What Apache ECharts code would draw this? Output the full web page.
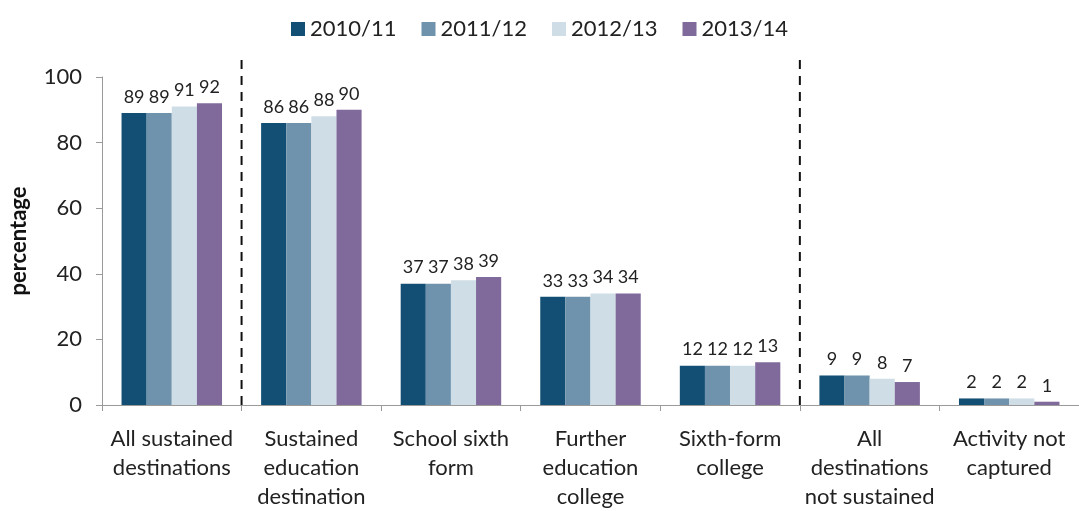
<!DOCTYPE html>
<html>
<head>
<meta charset="utf-8">
<script src="https://cdn.jsdelivr.net/npm/echarts@6/dist/echarts.min.js"></script>
<style>
  html, body { margin: 0; padding: 0; background: #fff; }
  #chart { width: 1079px; height: 511px; }
</style>
</head>
<body>
<div id="chart"></div>
<script>
// Destination categories along the x axis
const categories = [
  'All sustained\ndestinations',
  'Sustained\neducation\ndestination',
  'School sixth\nform',
  'Further\neducation\ncollege',
  'Sixth-form\ncollege',
  'All\ndestinations\nnot sustained',
  'Activity not\ncaptured'
];

// Academic years shown in the legend
const years = ['2010/11', '2011/12', '2012/13', '2013/14'];

// Percentage of pupils per destination, one array per year
const values2010 = [89, 86, 37, 33, 12, 9, 2];
const values2011 = [89, 86, 37, 33, 12, 9, 2];
const values2012 = [91, 88, 38, 34, 12, 8, 2];
const values2013 = [92, 90, 39, 34, 13, 7, 1];

// Group separators, expressed in category-boundary units (0..7)
const separatorPositions = [1, 5];
const separatorTop = 106.5;

const yTicks = [0, 20, 40, 60, 80, 100];

const seriesValues = [values2010, values2011, values2012, values2013];
const colors = ['#134f74', '#6f93ad', '#cfdde6', '#7f6a9b'];

const font = 'Lato, "Noto Sans", sans-serif';

const chart = echarts.init(document.getElementById('chart'), null, { renderer: 'canvas' });

const barSeries = years.map((name, i) => ({
  name: name,
  type: 'bar',
  data: seriesValues[i],
  barGap: '0%',
  barCategoryGap: '28%',
  itemStyle: { color: colors[i] },
  label: {
    show: true,
    position: 'top',
    distance: 7,
    color: '#222',
    fontFamily: font,
    fontSize: 18
  },
  emphasis: { disabled: true }
}));

const separatorSeries = separatorPositions.map(x => ({
  type: 'line',
  xAxisIndex: 1,
  data: [[x, 0], [x, separatorTop]],
  symbol: 'none',
  clip: false,
  silent: true,
  lineStyle: { color: '#111', width: 2, type: [9, 7] },
  z: 5
}));

chart.setOption({
  animation: false,
  textStyle: { fontFamily: font },
  legend: {
    data: years,
    top: 13,
    left: 'center',
    itemWidth: 14,
    itemHeight: 14,
    itemGap: 25,
    icon: 'rect',
    textStyle: { fontFamily: font, fontSize: 22, color: '#222' }
  },
  grid: { left: 101, right: 0, top: 77, bottom: 105, containLabel: false },
  xAxis: [
    {
      type: 'category',
      data: categories,
      axisLine: { lineStyle: { color: '#9a9a9a', width: 1 } },
      axisTick: { show: true, length: 6, alignWithLabel: false, lineStyle: { color: '#9a9a9a' } },
      axisLabel: {
        interval: 0,
        margin: 19,
        color: '#222',
        fontFamily: font,
        fontSize: 22,
        lineHeight: 29
      }
    },
    {
      type: 'value',
      min: 0,
      max: 7,
      show: false
    }
  ],
  yAxis: {
    type: 'value',
    min: yTicks[0],
    max: yTicks[yTicks.length - 1],
    interval: 20,
    name: 'percentage',
    nameLocation: 'middle',
    nameGap: 72,
    nameTextStyle: { fontFamily: font, fontSize: 22, fontWeight: 'bold', color: '#111' },
    axisLine: { show: true, lineStyle: { color: '#9a9a9a' } },
    axisTick: { show: true, length: 6, lineStyle: { color: '#9a9a9a' } },
    splitLine: { show: false },
    axisLabel: { color: '#222', fontFamily: font, fontSize: 22, margin: 20 }
  },
  series: barSeries.concat(separatorSeries)
});
</script>
</body>
</html>
